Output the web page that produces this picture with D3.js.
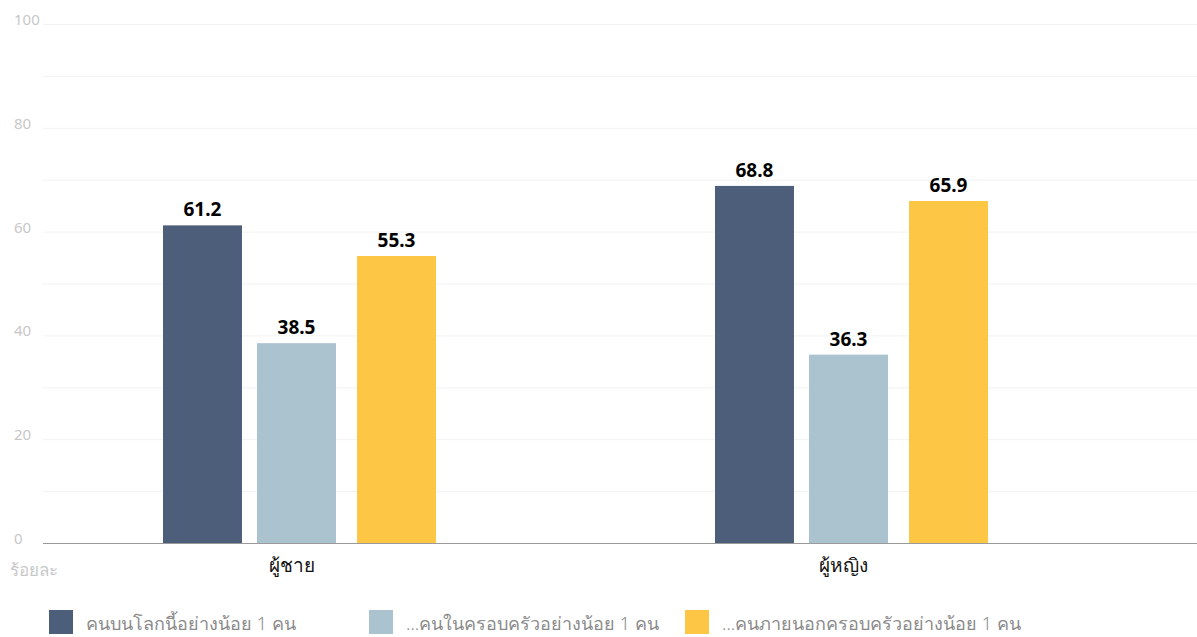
<!DOCTYPE html>
<html>
<head>
<meta charset="utf-8">
<script src="https://cdn.jsdelivr.net/npm/d3@7"></script>
<style>
  body { margin: 0; background: #fff; }
  svg { display: block; font-family: "Noto Sans", "DejaVu Sans", sans-serif; }
</style>
</head>
<body>
<svg id="chart" width="1197" height="637"></svg>
<script>
// Chart data
const categories = ["ผู้ชาย", "ผู้หญิง"];
const seriesNames = [
  "คนบนโลกนี้อย่างน้อย 1 คน",
  "...คนในครอบครัวอย่างน้อย 1 คน",
  "...คนภายนอกครอบครัวอย่างน้อย 1 คน"
];
const worldValues = [61.2, 68.8];
const familyValues = [38.5, 36.3];
const outsideValues = [55.3, 65.9];
const yTicks = [0, 20, 40, 60, 80, 100];
const gridTicks = [0, 10, 20, 30, 40, 50, 60, 70, 80, 90, 100];
const colors = ["#4d5e7a", "#abc3cf", "#fdc745"];
const unitLabel = "ร้อยละ";

const series = [worldValues, familyValues, outsideValues];

const svg = d3.select("#chart");
const plotLeft = 43, plotRight = 1197, plotTop = 24, plotBottom = 543;

const y = d3.scaleLinear().domain([0, 100]).range([plotBottom, plotTop]);
const x0 = d3.scaleBand().domain(categories).range([23.5, 1127.5]).padding(0);
const x1 = d3.scaleBand().domain(d3.range(seriesNames.length))
  .range([x0.bandwidth() / 2 - 136.5, x0.bandwidth() / 2 + 136.5])
  .paddingInner(0.186).paddingOuter(0);

// Gridlines
svg.append("g").selectAll("line").data(gridTicks).join("line")
  .attr("x1", plotLeft).attr("x2", plotRight)
  .attr("y1", d => y(d) + 0.5).attr("y2", d => y(d) + 0.5)
  .attr("stroke", "#f2f2f2").attr("stroke-width", 1);

// Y tick labels
svg.append("g").selectAll("text").data(yTicks).join("text")
  .attr("x", 14).attr("y", d => y(d) + 1)
  .attr("fill", "#c8c8c8").attr("font-size", 15)
  .text(d => d);

// Bars with value labels
const groups = svg.append("g").selectAll("g").data(categories).join("g")
  .attr("transform", c => `translate(${x0(c)},0)`);

groups.each(function(c, ci) {
  const g = d3.select(this);
  series.forEach((vals, si) => {
    const v = vals[ci];
    const bx = x1(si) - (si === 1 ? 3 : 0);
    g.append("rect")
      .attr("x", bx).attr("width", x1.bandwidth())
      .attr("y", y(v)).attr("height", y(0) - y(v))
      .attr("fill", colors[si]);
    g.append("text")
      .attr("x", bx + x1.bandwidth() / 2).attr("y", y(v) - 9)
      .attr("text-anchor", "middle").attr("font-size", 19).attr("font-weight", "bold")
      .attr("fill", "#000").text(v.toFixed(1));
  });
});

// Baseline
svg.append("line")
  .attr("x1", plotLeft).attr("x2", plotRight)
  .attr("y1", plotBottom + 0.5).attr("y2", plotBottom + 0.5)
  .attr("stroke", "#9a9a9a").attr("stroke-width", 1);

// Category labels
svg.append("g").selectAll("text").data(categories).join("text")
  .attr("x", c => x0(c) + x0.bandwidth() / 2 - 8).attr("y", 572)
  .attr("text-anchor", "middle").attr("font-size", 19).attr("font-weight", 300).attr("fill", "#111")
  .text(c => c);

// Unit label
svg.append("text").attr("x", 10).attr("y", 576)
  .attr("font-size", 17).attr("fill", "#c8c8c8").text(unitLabel);

// Legend
const legendX = [49, 369, 685];
const legend = svg.append("g").selectAll("g").data(seriesNames).join("g")
  .attr("transform", (d, i) => `translate(${legendX[i]},610)`);
legend.append("rect").attr("width", 24).attr("height", 24).attr("fill", (d, i) => colors[i]);
legend.append("text").attr("x", 37).attr("y", 20)
  .attr("font-size", 18).attr("font-weight", 300).attr("fill", "#8a8a8a").text(d => d);
</script>
</body>
</html>
